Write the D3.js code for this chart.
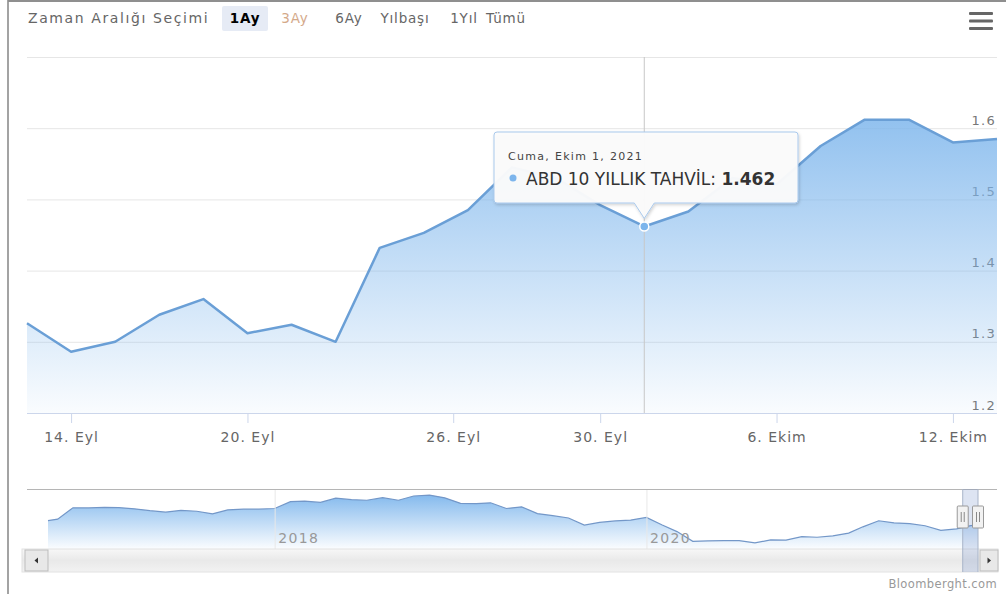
<!DOCTYPE html>
<html>
<head>
<meta charset="utf-8">
<script src="https://cdn.jsdelivr.net/npm/d3@7"></script>
<style>
  html, body { margin: 0; padding: 0; background: #fff; }
  svg { display: block; font-family: "DejaVu Sans", sans-serif; }
</style>
</head>
<body>
<svg id="chart" width="1006" height="594"></svg>
<script>
// ---- data -------------------------------------------------------------
const tradeDates = [
  "2021-09-13","2021-09-14","2021-09-15","2021-09-16","2021-09-17",
  "2021-09-20","2021-09-21","2021-09-22","2021-09-23","2021-09-24",
  "2021-09-27","2021-09-28","2021-09-29","2021-09-30","2021-10-01",
  "2021-10-04","2021-10-05","2021-10-06","2021-10-07","2021-10-08",
  "2021-10-11","2021-10-12","2021-10-13"
];
const yieldValues = [
  1.326, 1.286, 1.300, 1.338, 1.360,
  1.312, 1.324, 1.300, 1.432, 1.453,
  1.485, 1.545, 1.530, 1.492, 1.462,
  1.483, 1.530, 1.521, 1.575, 1.612,
  1.612, 1.580, 1.585
];
const xTickDates  = ["2021-09-14","2021-09-20","2021-09-26","2021-09-30","2021-10-06","2021-10-12"];
const xTickLabels = ["14. Eyl","20. Eyl","26. Eyl","30. Eyl","6. Ekim","12. Ekim"];
const yTicks      = [1.2, 1.3, 1.4, 1.5, 1.6, 1.7];
const yTickLabels = ["1.2","1.3","1.4","1.5","1.6",""];

const rangeTitle   = "Zaman Aralığı Seçimi";
const rangeButtons = ["1Ay","3Ay","6Ay","Yılbaşı","1Yıl","Tümü"];
const activeButton = 0;

const seriesName     = "ABD 10 YILLIK TAHVİL";
const hoverIndex     = 14;
const hoverDateLabel = "Cuma, Ekim 1, 2021";
const creditText     = "Bloomberght.com";

// navigator: long-run history of the same yield
const navDates = [
  "2016-10-13","2016-11-01","2016-12-01",
  "2017-01-01","2017-02-01","2017-03-01","2017-04-01","2017-05-01","2017-06-01",
  "2017-07-01","2017-08-01","2017-09-01","2017-10-01","2017-11-01","2017-12-01",
  "2018-01-01","2018-02-01","2018-03-01","2018-04-01","2018-05-01","2018-06-01",
  "2018-07-01","2018-08-01","2018-09-01","2018-10-01","2018-11-01","2018-12-01",
  "2019-01-01","2019-02-01","2019-03-01","2019-04-01","2019-05-01","2019-06-01",
  "2019-07-01","2019-08-01","2019-09-01","2019-10-01","2019-11-01","2019-12-01",
  "2020-01-01","2020-02-01","2020-03-01","2020-04-01","2020-05-01","2020-06-01",
  "2020-07-01","2020-08-01","2020-09-01","2020-10-01","2020-11-01","2020-12-01",
  "2021-01-01","2021-02-01","2021-03-01","2021-04-01","2021-05-01","2021-06-01",
  "2021-07-01","2021-08-01","2021-09-01","2021-10-01","2021-10-13"
];
const navValues = [
  1.75, 1.83, 2.45,
  2.44, 2.47, 2.46, 2.39, 2.29, 2.21,
  2.31, 2.26, 2.12, 2.33, 2.37, 2.37,
  2.41, 2.78, 2.81, 2.74, 2.97, 2.89,
  2.86, 3.00, 2.86, 3.09, 3.14, 2.99,
  2.69, 2.68, 2.72, 2.41, 2.50, 2.13,
  2.02, 1.89, 1.50, 1.65, 1.73, 1.78,
  1.92, 1.51, 1.15, 0.62, 0.64, 0.66,
  0.66, 0.53, 0.70, 0.68, 0.87, 0.84,
  0.92, 1.07, 1.41, 1.74, 1.63, 1.58,
  1.47, 1.22, 1.30, 1.49, 1.58
];
const navTickDates  = ["2018-01-01","2020-01-01"];
const navTickLabels = ["2018","2020"];

// ---- layout -----------------------------------------------------------
const W = 1006, H = 594;
const plot = { left: 27, right: 997, top: 57, bottom: 413 };
const nav  = { left: 48, right: 978, top: 489, bottom: 549, lineTop: 494, lineBottom: 543.5 };
const blue = "#7cb5ec";

const parse = d3.utcParse("%Y-%m-%d");
const points = tradeDates.map((d, i) => ({ date: parse(d), v: yieldValues[i] }));
const svg = d3.select("#chart");
const defs = svg.append("defs");

// ordinal time axis: trading days are evenly spaced, calendar gaps interpolate
const idx = d3.scaleLinear().domain([0, points.length - 1]).range([plot.left, plot.right]);
const x = d3.scaleUtc()
  .domain(points.map(p => p.date))
  .range(points.map((p, i) => idx(i)));
const y = d3.scaleLinear().domain([1.2, 1.7]).range([plot.bottom, plot.top]);

// frame
svg.append("line").attr("x1", 8).attr("x2", 8).attr("y1", 0).attr("y2", H)
  .attr("stroke", "#a3a3a3").attr("stroke-width", 2);
svg.append("line").attr("x1", 8).attr("x2", W).attr("y1", 1).attr("y2", 1)
  .attr("stroke", "#8f8f8f").attr("stroke-width", 2);

// ---- range selector ---------------------------------------------------
const toolbar = svg.append("g");
toolbar.append("text").attr("x", 28).attr("y", 23).attr("fill", "#666")
  .attr("font-size", 14).attr("letter-spacing", 1.6).text(rangeTitle);
const buttonCenters = [245, 295, 349, 405, 464, 506];
toolbar.append("rect").attr("x", buttonCenters[activeButton] - 23).attr("y", 6)
  .attr("width", 46).attr("height", 25).attr("rx", 2).attr("fill", "#e6ebf5");
toolbar.selectAll("text.btn").data(rangeButtons).join("text")
  .attr("class", "btn")
  .attr("x", (d, i) => buttonCenters[i]).attr("y", 23)
  .attr("text-anchor", "middle")
  .attr("font-size", 13.5).attr("letter-spacing", 0.8)
  .attr("font-weight", (d, i) => i === activeButton ? "bold" : null)
  .attr("fill", (d, i) => i === activeButton ? "#000" : (i === 1 ? "#d4a98a" : "#666"))
  .text(d => d);

// export menu icon
svg.append("g").selectAll("rect").data([0, 1, 2]).join("rect")
  .attr("x", 969).attr("y", d => 12 + d * 7.5).attr("width", 24).attr("height", 3)
  .attr("rx", 1).attr("fill", "#666");

// ---- grid and y labels ------------------------------------------------
const yAxis = d3.axisRight(y).tickValues(yTicks).tickSize(plot.right - plot.left)
  .tickFormat((d, i) => yTickLabels[i]);
const yg = svg.append("g").attr("transform", `translate(${plot.left},0)`).call(yAxis);
yg.select(".domain").remove();
yg.selectAll(".tick line").attr("stroke", "#e6e6e6");
yg.selectAll(".tick text")
  .attr("x", plot.right - plot.left - 1).attr("dy", -4)
  .attr("text-anchor", "end").attr("fill", "#777")
  .attr("font-size", 13).attr("letter-spacing", 1.3)
  .attr("font-family", "DejaVu Sans, sans-serif");

// ---- area series ------------------------------------------------------
const grad = defs.append("linearGradient").attr("id", "areaFill")
  .attr("gradientUnits", "userSpaceOnUse")
  .attr("x1", 0).attr("x2", 0).attr("y1", plot.top).attr("y2", plot.bottom);
grad.append("stop").attr("offset", 0).attr("stop-color", blue).attr("stop-opacity", 1);
grad.append("stop").attr("offset", 1).attr("stop-color", blue).attr("stop-opacity", 0.04);

svg.append("path").datum(points)
  .attr("fill", "url(#areaFill)")
  .attr("d", d3.area().x(p => x(p.date)).y0(plot.bottom).y1(p => y(p.v)));
svg.append("path").datum(points)
  .attr("fill", "none").attr("stroke", "#6a9fd6").attr("stroke-width", 2.5)
  .attr("stroke-linejoin", "round")
  .attr("d", d3.line().x(p => x(p.date)).y(p => y(p.v)));

// ---- x axis -----------------------------------------------------------
const xAxis = d3.axisBottom(x).tickValues(xTickDates.map(parse))
  .tickFormat((d, i) => xTickLabels[i]).tickSize(10).tickSizeOuter(0);
const xg = svg.append("g").attr("transform", `translate(0,${plot.bottom})`).call(xAxis);
xg.select(".domain").attr("stroke", "#ccd6eb")
  .attr("d", `M${plot.left},0.5H${plot.right}`);
xg.selectAll(".tick line").attr("stroke", "#ccd6eb");
xg.selectAll(".tick text").attr("y", 29).attr("dy", 0)
  .attr("fill", "#666").attr("font-size", 14).attr("letter-spacing", 1)
  .attr("font-family", "DejaVu Sans, sans-serif");

// ---- hover state ------------------------------------------------------
const hp = points[hoverIndex];
const hx = x(hp.date), hy = y(hp.v);
svg.append("line").attr("x1", hx).attr("x2", hx).attr("y1", plot.top).attr("y2", plot.bottom)
  .attr("stroke", "#c8c8c8").attr("stroke-width", 1);
svg.append("circle").attr("cx", hx).attr("cy", hy).attr("r", 4.5)
  .attr("fill", blue).attr("stroke", "#fff").attr("stroke-width", 1.5);

// tooltip callout
const shadow = defs.append("filter").attr("id", "tipShadow")
  .attr("x", "-10%").attr("y", "-20%").attr("width", "130%").attr("height", "160%");
shadow.append("feDropShadow").attr("dx", 1).attr("dy", 1.5).attr("stdDeviation", 1.5)
  .attr("flood-color", "#000").attr("flood-opacity", 0.18);

const tip = { left: 494, right: 798, top: 132, bottom: 203, r: 3 };
const tp = d3.path();
tp.moveTo(tip.left + tip.r, tip.top);
tp.lineTo(tip.right - tip.r, tip.top);
tp.arcTo(tip.right, tip.top, tip.right, tip.top + tip.r, tip.r);
tp.lineTo(tip.right, tip.bottom - tip.r);
tp.arcTo(tip.right, tip.bottom, tip.right - tip.r, tip.bottom, tip.r);
tp.lineTo(hx + 10, tip.bottom);
tp.lineTo(hx, hy - 8);
tp.lineTo(hx - 10, tip.bottom);
tp.lineTo(tip.left + tip.r, tip.bottom);
tp.arcTo(tip.left, tip.bottom, tip.left, tip.bottom - tip.r, tip.r);
tp.lineTo(tip.left, tip.top + tip.r);
tp.arcTo(tip.left, tip.top, tip.left + tip.r, tip.top, tip.r);
tp.closePath();
svg.append("path").attr("d", tp.toString())
  .attr("fill", "rgba(251,251,251,0.96)").attr("stroke", "#a9c9ec").attr("stroke-width", 1)
  .attr("filter", "url(#tipShadow)");

svg.append("text").attr("x", 508).attr("y", 160)
  .attr("font-size", 11).attr("letter-spacing", 1.3).attr("fill", "#444")
  .text(hoverDateLabel);
svg.append("circle").attr("cx", 513).attr("cy", 178).attr("r", 3.5).attr("fill", blue);
const valText = svg.append("text").attr("x", 526).attr("y", 185)
  .attr("font-size", 17).attr("fill", "#333");
valText.append("tspan").text(seriesName + ": ");
valText.append("tspan").attr("font-weight", "bold").text(d3.format(".3f")(hp.v));

// ---- navigator --------------------------------------------------------
const navPts = navDates.map((d, i) => ({ date: parse(d), v: navValues[i] }));
const nx = d3.scaleUtc().domain(d3.extent(navPts, p => p.date)).range([nav.left, nav.right]);
const ny = d3.scaleLinear().domain([0.5, 3.2]).range([nav.lineBottom, nav.lineTop]);

const ngrad = defs.append("linearGradient").attr("id", "navFill")
  .attr("gradientUnits", "userSpaceOnUse")
  .attr("x1", 0).attr("x2", 0).attr("y1", nav.lineTop).attr("y2", nav.bottom);
ngrad.append("stop").attr("offset", 0).attr("stop-color", blue).attr("stop-opacity", 0.95);
ngrad.append("stop").attr("offset", 1).attr("stop-color", blue).attr("stop-opacity", 0.03);

const navAxis = d3.axisBottom(nx).tickValues(navTickDates.map(parse))
  .tickFormat((d, i) => navTickLabels[i]).tickSize(nav.bottom - nav.top).tickSizeOuter(0);
const ng = svg.append("g").attr("transform", `translate(0,${nav.top})`).call(navAxis);
ng.select(".domain").remove();
ng.selectAll(".tick line").attr("stroke", "#e8e8e8");

svg.append("path").datum(navPts).attr("fill", "url(#navFill)")
  .attr("d", d3.area().x(p => nx(p.date)).y0(nav.bottom).y1(p => ny(p.v)));
svg.append("path").datum(navPts).attr("fill", "none")
  .attr("stroke", "#7397c8").attr("stroke-width", 1.2)
  .attr("d", d3.line().x(p => nx(p.date)).y(p => ny(p.v)));

ng.raise();
ng.selectAll(".tick text").attr("x", 3).attr("y", 54).attr("dy", 0)
  .attr("text-anchor", "start").attr("fill", "#999")
  .attr("font-size", 14).attr("letter-spacing", 1.4)
  .attr("font-family", "DejaVu Sans, sans-serif");

// outline along the top of the navigator
svg.append("line").attr("x1", plot.left).attr("x2", plot.right)
  .attr("y1", nav.top + 0.5).attr("y2", nav.top + 0.5)
  .attr("stroke", "#b5b5b5").attr("stroke-width", 1);

// scrollbar
const sb = { left: 22, right: 998, top: 549, bottom: 572 };
const sgrad = defs.append("linearGradient").attr("id", "trackFill")
  .attr("x1", 0).attr("x2", 0).attr("y1", 0).attr("y2", 1);
sgrad.append("stop").attr("offset", 0).attr("stop-color", "#f7f7f7");
sgrad.append("stop").attr("offset", 0.5).attr("stop-color", "#e9e9e9");
sgrad.append("stop").attr("offset", 1).attr("stop-color", "#f2f2f2");
svg.append("rect").attr("x", sb.left).attr("y", sb.top)
  .attr("width", sb.right - sb.left).attr("height", sb.bottom - sb.top)
  .attr("fill", "url(#trackFill)").attr("stroke", "#e2e2e2");

// selected window: last month of the history
const selStart = nx(points[0].date), selEnd = nx(points[points.length - 1].date);
svg.append("rect").attr("x", selStart).attr("y", nav.top)
  .attr("width", selEnd - selStart).attr("height", sb.bottom - nav.top)
  .attr("fill", "rgba(102,133,194,0.22)");
[selStart, selEnd].forEach(px => {
  svg.append("line").attr("x1", px).attr("x2", px).attr("y1", nav.top).attr("y2", sb.bottom)
    .attr("stroke", "#a8b4c8").attr("stroke-width", 1);
});

// buttons with arrows
function sbButton(x0, w, dir) {
  svg.append("rect").attr("x", x0).attr("y", sb.top + 1).attr("width", w).attr("height", sb.bottom - sb.top - 2)
    .attr("fill", "#e8e8e8").attr("stroke", "#bdbdbd");
  const cx = x0 + w / 2, cy = (sb.top + sb.bottom) / 2;
  const d = dir < 0
    ? `M${cx + 1.5},${cy - 3}L${cx - 2},${cy}L${cx + 1.5},${cy + 3}Z`
    : `M${cx - 1.5},${cy - 3}L${cx + 2},${cy}L${cx - 1.5},${cy + 3}Z`;
  svg.append("path").attr("d", d).attr("fill", "#333");
}
sbButton(25, 23, -1);
sbButton(980, 18, 1);

// navigator handles
[selStart, selEnd].forEach(px => {
  const g = svg.append("g").attr("transform", `translate(${px},506)`);
  g.append("rect").attr("x", -5.5).attr("y", 0).attr("width", 11).attr("height", 22)
    .attr("rx", 1).attr("fill", "#f2f2f2").attr("stroke", "#999");
  g.selectAll("line").data([-1.5, 1.5]).join("line")
    .attr("x1", d => d).attr("x2", d => d).attr("y1", 6).attr("y2", 16)
    .attr("stroke", "#888");
});

// credits
svg.append("text").attr("x", 997).attr("y", 588).attr("text-anchor", "end")
  .attr("font-size", 11.5).attr("letter-spacing", 0.4).attr("fill", "#999")
  .text(creditText);
</script>
</body>
</html>
